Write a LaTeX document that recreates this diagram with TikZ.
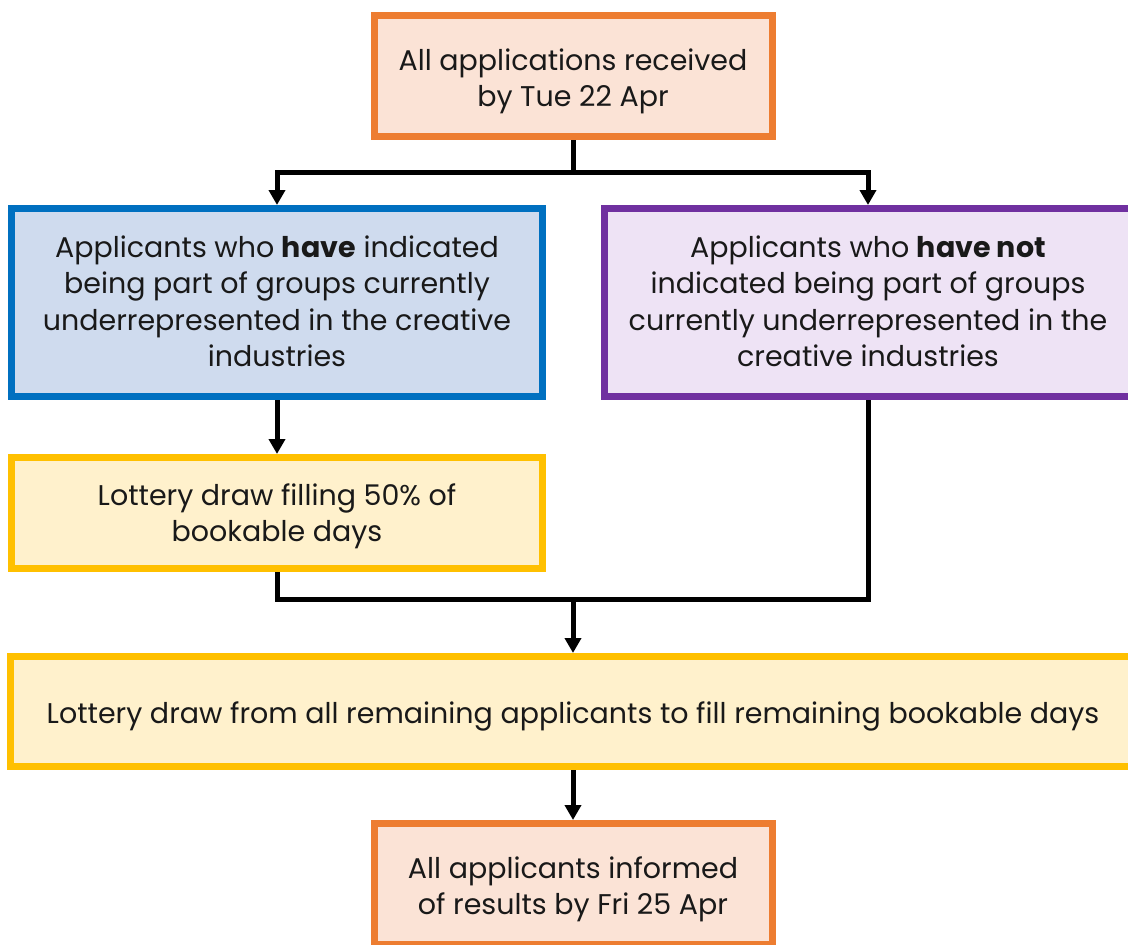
\documentclass[tikz,border=0pt]{standalone}
\usepackage{fontspec}
\setmainfont{Poppins}
\usetikzlibrary{arrows.meta}
\definecolor{orgB}{HTML}{ED7D31}
\definecolor{orgF}{HTML}{FBE3D6}
\definecolor{bluB}{HTML}{0070C0}
\definecolor{bluF}{HTML}{CFDBEE}
\definecolor{purB}{HTML}{7030A0}
\definecolor{purF}{HTML}{EEE3F5}
\definecolor{yelB}{HTML}{FFC000}
\definecolor{yelF}{HTML}{FFF1CC}
\newcommand\lowtxt[2][4pt]{\raisebox{-#1}[\height][\depth]{\begin{tabular}{@{}c@{}}#2\end{tabular}}}
\tikzset{
  box/.style={draw, line width=7pt, rectangle, inner sep=0pt,
    font=\fontsize{28.5}{36.5}\selectfont, text=black!90},
  conn/.style={line width=5pt, line join=miter, black},
  arr/.style={conn, -{Triangle[length=15pt,width=16pt]}},
}
\begin{document}
\begin{tikzpicture}[x=1pt,y=-1pt]
\useasboundingbox (0,0) rectangle (1128,945);
\clip (0,0) rectangle (1128,945);
\node[box, draw=orgB, fill=orgF, minimum width=398pt, minimum height=121pt] (top) at (573,76) {\lowtxt[5pt]{All applications received\\by Tue 22 Apr}};
\node[box, draw=bluB, fill=bluF, minimum width=531pt, minimum height=188pt] (blue) at (277,302.5) {\lowtxt[2pt]{Applicants who \textbf{have} indicated\\being part of groups currently\\underrepresented in the creative\\industries}};
\node[box, draw=purB, fill=purF, minimum width=527pt, minimum height=188pt] (purple) at (868,302.5) {\lowtxt[2pt]{Applicants who \textbf{have not}\\indicated being part of groups\\currently underrepresented in the\\creative industries}};
\node[box, draw=yelB, fill=yelF, minimum width=531pt, minimum height=111pt] (lot) at (277,513) {\lowtxt[3pt]{Lottery draw filling 50\% of\\bookable days}};
\node[box, draw=yelB, fill=yelF, minimum width=1125pt, minimum height=110pt] (big) at (573,711.5) {\lowtxt[5pt]{Lottery draw from all remaining applicants to fill remaining bookable days}};
\node[box, draw=orgB, fill=orgF, minimum width=398pt, minimum height=121pt] (bot) at (573,884) {\lowtxt[5pt]{All applicants informed\\of results by Fri 25 Apr}};
\coordinate (j1) at (573,172);
\coordinate (j2) at (573,599);
\draw[conn] (top.south) -- (j1);
\draw[arr] (j1) -| (blue.north);
\draw[arr] (j1) -| (purple.north);
\draw[arr] (blue.south) -- (lot.north);
\draw[conn] (lot.south) |- (j2) -| (purple.south);
\draw[arr] (j2) -- (big.north);
\draw[arr] (big.south) -- (bot.north);
\end{tikzpicture}
\end{document}
